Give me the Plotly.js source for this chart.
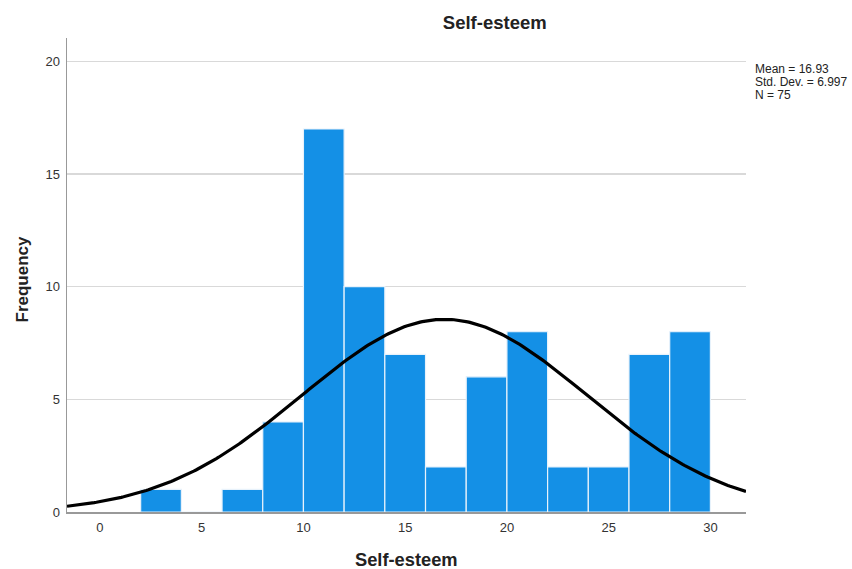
<!DOCTYPE html>
<html><head><meta charset="utf-8">
<script src="https://cdn.plot.ly/plotly-3.0.1.min.js"></script>
<style>html,body{margin:0;padding:0;background:#fff}#chart{width:852px;height:569px}</style>
</head><body><div id="chart"></div>
<script>
// Histogram bins (lower edges, width 2) and frequencies
const binStarts = [2, 4, 6, 8, 10, 12, 14, 16, 18, 20, 22, 24, 26, 28];
const binWidth = 2;
const frequencies = [1, 0, 1, 4, 17, 10, 7, 2, 6, 8, 2, 2, 7, 8];
const xTicks = [0, 5, 10, 15, 20, 25, 30];
const yTicks = [0, 5, 10, 15, 20];
// Reported statistics
const statMean = 16.93;
const statSD = 6.997;
const statN = 75;
const statLines = ['Mean = ' + statMean, 'Std. Dev. = ' + statSD, 'N = ' + statN];

const xRange = [-1.62, 31.75];
const yRange = [0, 21.04];

const barX = binStarts.map(s => s + binWidth / 2);

// Normal curve defined by the reported mean, SD and N
const curveX = [], curveY = [];
const steps = 300;
for (let i = 0; i <= steps; i++) {
  const x = xRange[0] + (xRange[1] - xRange[0]) * i / steps;
  const z = (x - statMean) / statSD;
  curveX.push(x);
  curveY.push(statN * binWidth * Math.exp(-0.5 * z * z) / (statSD * Math.sqrt(2 * Math.PI)));
}

const font = 'Arial, "Liberation Sans", sans-serif';
const data = [
  {type: 'bar', x: barX, y: frequencies, width: binWidth,
   marker: {color: '#1490e6', line: {color: '#e8f2fb', width: 1.2}},
   hoverinfo: 'x+y'},
  {type: 'scatter', mode: 'lines', x: curveX, y: curveY,
   line: {color: '#000000', width: 3.2}, hoverinfo: 'skip'}
];

const statY = [0.9345, 0.9072, 0.8798];
const annotations = statLines.map((t, i) => ({
  xref: 'paper', yref: 'paper', x: 1.011, y: statY[i], xanchor: 'left', yanchor: 'middle',
  showarrow: false, text: t, font: {family: font, size: 12, color: '#222222'}
}));
annotations.push({
  xref: 'paper', yref: 'paper', x: 0.5, y: -0.1, xanchor: 'center', yanchor: 'middle',
  showarrow: false, text: '<b>Self-esteem</b>', font: {family: font, size: 18.3, color: '#222222'}
});
annotations.push({
  xref: 'paper', yref: 'paper', x: -0.0655, y: 0.4916, xanchor: 'center', yanchor: 'middle',
  textangle: -90, showarrow: false, text: '<b>Frequency</b>', font: {family: font, size: 17, color: '#222222'}
});

const layout = {
  width: 852, height: 569,
  margin: {l: 67, r: 105.5, t: 38, b: 56.5},
  paper_bgcolor: '#ffffff', plot_bgcolor: '#ffffff',
  showlegend: false,
  bargap: 0,
  font: {family: font, size: 12, color: '#333333'},
  title: {text: '<b>Self-esteem</b>', font: {family: font, size: 18.5, color: '#222222'},
          x: 0.63, xanchor: 'center', xref: 'paper', y: 0.961, yref: 'container', yanchor: 'middle'},
  xaxis: {range: xRange, tickvals: xTicks, ticktext: xTicks.map(String),
          showgrid: false, zeroline: false, showline: true, linecolor: '#999999', linewidth: 1.5,
          ticks: '', ticklabelstandoff: 3,
          tickfont: {family: font, size: 13, color: '#333333'}},
  yaxis: {range: yRange, tickvals: yTicks, ticktext: yTicks.map(String),
          showgrid: true, gridcolor: '#d9d9d9', gridwidth: 1.5, zeroline: false,
          showline: true, linecolor: '#999999', linewidth: 1.5, ticks: '',
          ticklabelstandoff: 3,
          tickfont: {family: font, size: 13, color: '#333333'}},
  annotations: annotations
};

Plotly.newPlot('chart', data, layout, {displayModeBar: false, staticPlot: true});
</script></body></html>
